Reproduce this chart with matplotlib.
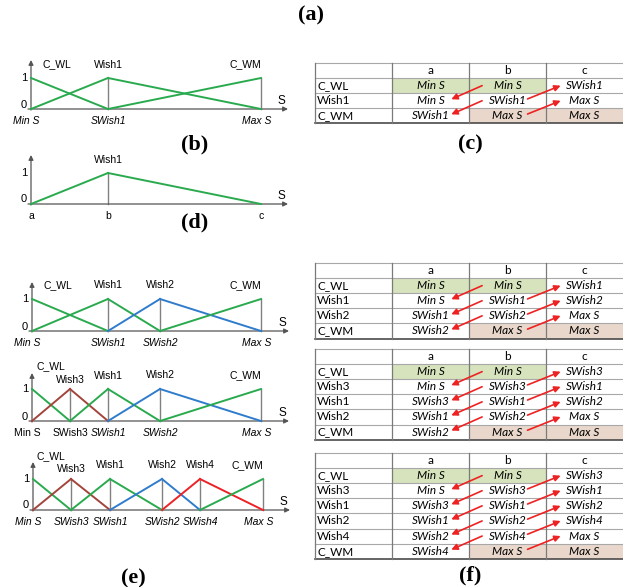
import matplotlib.pyplot as plt
from matplotlib.patches import Rectangle

W, H = 623, 587

# membership functions: name and breakpoints (a, b, c), same as the tables
c_names = ['C_WL', 'Wish1', 'C_WM']
c_abc = [('Min S', 'Min S', 'SWish1'),
         ('Min S', 'SWish1', 'Max S'),
         ('SWish1', 'Max S', 'Max S')]

f1_names = ['C_WL', 'Wish1', 'Wish2', 'C_WM']
f1_abc = [('Min S', 'Min S', 'SWish1'),
          ('Min S', 'SWish1', 'SWish2'),
          ('SWish1', 'SWish2', 'Max S'),
          ('SWish2', 'Max S', 'Max S')]

f2_names = ['C_WL', 'Wish3', 'Wish1', 'Wish2', 'C_WM']
f2_abc = [('Min S', 'Min S', 'SWish3'),
          ('Min S', 'SWish3', 'SWish1'),
          ('SWish3', 'SWish1', 'SWish2'),
          ('SWish1', 'SWish2', 'Max S'),
          ('SWish2', 'Max S', 'Max S')]

f3_names = ['C_WL', 'Wish3', 'Wish1', 'Wish2', 'Wish4', 'C_WM']
f3_abc = [('Min S', 'Min S', 'SWish3'),
          ('Min S', 'SWish3', 'SWish1'),
          ('SWish3', 'SWish1', 'SWish2'),
          ('SWish1', 'SWish2', 'SWish4'),
          ('SWish2', 'SWish4', 'Max S'),
          ('SWish4', 'Max S', 'Max S')]

d_names = ['Wish1']
d_abc = [('a', 'b', 'c')]

# positions of the breakpoints along S
b_pos = {'Min S': 0, 'SWish1': 77, 'Max S': 230}
d_pos = {'a': 0, 'b': 77, 'c': 230}
e1_pos = {'Min S': 0, 'SWish1': 76, 'SWish2': 128, 'Max S': 229}
e2_pos = {'Min S': 0, 'SWish3': 38, 'SWish1': 76, 'SWish2': 128, 'Max S': 229}
e3_pos = {'Min S': 0, 'SWish3': 38, 'SWish1': 77, 'SWish2': 129, 'SWish4': 167, 'Max S': 230}

header = ['a', 'b', 'c']

GREEN = '#2aaa4e'
mf_colors = {'C_WL': GREEN, 'Wish1': GREEN, 'C_WM': GREEN,
             'Wish2': '#2f7ccc', 'Wish3': '#a2453c', 'Wish4': '#ec2226'}
RED = '#ee2222'
SANS = 'Liberation Sans'
TFONT = 'Lato'
TSIZE = 8.5

fig = plt.figure(figsize=(W / 100, H / 100), dpi=100)


def px_axes(left, top, right, bottom):
    return fig.add_axes([left / W, 1 - bottom / H, (right - left) / W, (bottom - top) / H])


def draw_mf(x0, top, one, zero, names, abc, pos, upright=(), lab_dy=None, wl_x=26):
    ppu = zero - one
    units = (zero - top) / ppu
    ax = px_axes(x0, top, x0 + 256, zero)
    ax.set_xlim(0, 256)
    ax.set_ylim(0, units)
    ax.axis('off')
    lab_dy = lab_dy or {}
    ap = dict(arrowstyle='-|>', color='#555555', lw=0.9, mutation_scale=7,
              shrinkA=0, shrinkB=0)
    ax.annotate('', xy=(257, 0), xytext=(-3, 0), arrowprops=ap, annotation_clip=False)
    ax.annotate('', xy=(0, units), xytext=(0, -1 / ppu), arrowprops=ap, annotation_clip=False)
    for nm, (a, b, c) in zip(names, abc):
        xa, xb, xc = pos[a], pos[b], pos[c]
        col = mf_colors[nm]
        if xb > 0:
            ax.plot([xb, xb], [0, 1], color='#808080', lw=1.0, zorder=2, clip_on=False)
        if xb > xa:
            ax.plot([xa, xb], [0, 1], color=col, lw=1.4, zorder=3, clip_on=False)
        if xc > xb:
            ax.plot([xb, xc], [1, 0], color=col, lw=1.4, zorder=3, clip_on=False)
        # name label above the peak
        if nm == 'C_WL':
            lx = wl_x
        elif nm == 'C_WM':
            lx = xb - 16
        else:
            lx = xb
        ly = 1 + lab_dy.get(nm, 13.5) / ppu
        ax.text(lx, ly, nm, ha='center', va='center', fontsize=7.5, family=SANS)
    # breakpoint labels under the axis
    for key, xv in pos.items():
        shift = {'Min S': -5, 'Max S': -4}.get(key, 0)
        ax.text(xv + shift, -12 / ppu, key, ha='center', va='center', fontsize=7.5,
                family=SANS, style='normal' if key in upright else 'italic')
    ax.text(-7, 1, '1', ha='center', va='center', fontsize=8, family=SANS)
    ax.text(-7, 4.5 / ppu, '0', ha='center', va='center', fontsize=8, family=SANS)
    ax.text(250, 8 / ppu, 'S', ha='center', va='center', fontsize=8.5, family=SANS)


def draw_table(top, names, abc):
    n = len(names) + 1
    ax = px_axes(315, top, 623, top + n * 15.1)
    ax.set_xlim(0, 4)
    ax.set_ylim(n, 0)
    ax.axis('off')
    for i, vals in enumerate(abc):
        for j, v in enumerate(vals):
            if i == 0 and v == 'Min S':
                ax.add_patch(Rectangle((j + 1, i + 1), 1, 1, fc='#d6e3bd', ec='none'))
            if i == len(abc) - 1 and v == 'Max S':
                ax.add_patch(Rectangle((j + 1, i + 1), 1, 1, fc='#e9d7cb', ec='none'))
    for r in range(n + 1):
        ax.plot([0, 4], [r, r], color='#4a4a4a' if r == n else '#a8a8a8',
                lw=1.2 if r == n else 0.8, clip_on=False)
    for cidx in range(4):
        ax.plot([cidx, cidx], [0, n], color='#7a7a7a', lw=0.9, clip_on=False)
    for j, h in enumerate(header):
        ax.text(j + 1.5, 0.5, h, ha='center', va='center', fontsize=TSIZE, family=TFONT)
    for i, (nm, vals) in enumerate(zip(names, abc)):
        ax.text(0.03, i + 1.5, nm, ha='left', va='center', fontsize=TSIZE, family=TFONT)
        for j, v in enumerate(vals):
            ax.text(j + 1.5, i + 1.5, v, ha='center', va='center', fontsize=TSIZE,
                    family=TFONT, style='italic')
    ap = dict(arrowstyle='-|>', color=RED, lw=1.2, mutation_scale=9, shrinkA=0, shrinkB=0)
    for i in range(len(names) - 1):
        ax.annotate('', xy=(1.77, i + 2.4), xytext=(2.17, i + 1.5), arrowprops=ap)
        ax.annotate('', xy=(3.19, i + 1.5), xytext=(2.76, i + 2.38), arrowprops=ap)


# (b)
draw_mf(31, 60, 78, 109, c_names, c_abc, b_pos)
# (c)
draw_table(63, c_names, c_abc)
# (d)
draw_mf(31, 155, 173, 204, d_names, d_abc, d_pos, upright=('a', 'b', 'c'))
# (e)
draw_mf(32, 282, 299, 331, f1_names, f1_abc, e1_pos)
draw_mf(32, 373, 389, 421, f2_names, f2_abc, e2_pos, upright=('Min S', 'SWish3'),
        lab_dy={'C_WL': 23, 'Wish3': 9, 'Wish1': 13}, wl_x=19)
draw_mf(33, 462, 479, 510, f3_names, f3_abc, e3_pos,
        lab_dy={'C_WL': 23, 'Wish3': 10, 'Wish1': 14}, wl_x=18)
# (f)
draw_table(263, f1_names, f1_abc)
draw_table(349, f2_names, f2_abc)
draw_table(453, f3_names, f3_abc)

for lab, x, y in [('(a)', 311, 15), ('(b)', 195, 144), ('(c)', 470, 144),
                  ('(d)', 195, 222), ('(e)', 133, 578), ('(f)', 470, 575)]:
    fig.text(x / W, 1 - y / H, lab, ha='center', va='center', fontsize=16,
             family='Liberation Serif', weight='bold')

fig.savefig('out.png', dpi=100)
